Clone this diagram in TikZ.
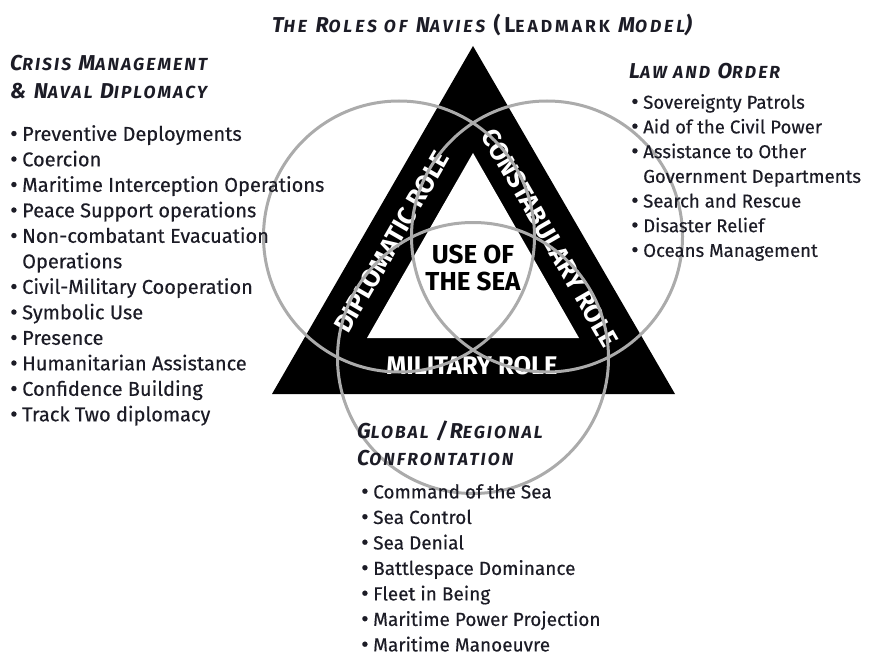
\documentclass[tikz,border=0pt]{standalone}
\usepackage{fontspec}
\setmainfont{Fira Sans}
\newfontfamily\bodyfont{Fira Sans}[FakeBold=0.35]
\newfontfamily\headfont{Fira Sans}[LetterSpace=12]
\definecolor{ink}{HTML}{1C1C26}
\definecolor{ringgray}{HTML}{ABABAB}
% small capitals built from full capitals at a reduced size
\newcommand\smc[2]{#1{\fontsize{17.5}{17.5}\selectfont #2}}
% list bullet and hanging indent
\newcommand\itm{\makebox[12pt][l]{\raisebox{-0.6pt}{\fontsize{23}{0}\selectfont •}}}
\newcommand\cont{\hspace*{12pt}}
\begin{document}
\begin{tikzpicture}[x=1pt,y=-1pt,
  heading/.style={anchor=base west, inner sep=0pt, text=ink,
    font=\headfont\fontsize{21.5}{24}\selectfont\bfseries\itshape},
  bullets/.style={anchor=north west, inner sep=0pt, align=left, text=ink,
    font=\bodyfont\fontsize{19}{25.5}\selectfont},
  rolelabel/.style={inner sep=0pt, text=white,
    font=\fontsize{25.5}{25.5}\selectfont\bfseries},
  ring/.style={draw=ringgray, line width=3pt}]
\useasboundingbox (0,0) rectangle (872,655);

% title
\node[heading, anchor=base, font=\headfont\addfontfeature{LetterSpace=17}\fontsize{21.5}{24}\selectfont\bfseries\itshape]
  (title) at (482,33)
  {\smc{T}{HE} \smc{R}{OLES OF} \smc{N}{AVIES} {\upshape(\smc{L}{EADMARK}} \smc{M}{ODEL})};

% the triangle of roles
\fill[black] (473,46) -- (272,394) -- (675,394) -- cycle;
\fill[white] (473,153) -- (367,338) -- (579,338) -- cycle;

\node[font=\fontsize{26}{27.5}\selectfont\bfseries, text=black, align=center, inner sep=0pt]
  (sea) at (473,268) {USE OF\\THE SEA};
\node[rolelabel] (military) at (472,366) {MILITARY ROLE};
\node[rolelabel, rotate=60] (diplomatic) at (392,242) {DIPLOMATIC ROLE};
\node[rolelabel, rotate=-60] (constabulary) at (550,238) {CONSTABULARY ROLE};

% overlapping circles
\draw[ring] (399,236.5) circle[radius=135.5];
\draw[ring] (547,236.5) circle[radius=135.5];
\draw[ring] (473,358) circle[radius=135.5];

% crisis management
\node[heading] (crisisA) at (10,71) {\smc{C}{RISIS} \smc{M}{ANAGEMENT}};
\node[heading] (crisisB) at (10,99) {\& \smc{N}{AVAL} \smc{D}{IPLOMACY}};
\node[bullets, font=\bodyfont\fontsize{20}{25.5}\selectfont] (crisislist) at (10,125) {%
\itm Preventive Deployments\\
\itm Coercion\\
\itm Maritime Interception Operations\\
\itm Peace Support operations\\
\itm Non-combatant Evacuation\\
\cont Operations\\
\itm Civil-Military Cooperation\\
\itm Symbolic Use\\
\itm Presence\\
\itm Humanitarian Assistance\\
\itm Confidence Building\\
\itm Track Two diplomacy};

% law and order
\node[heading] (lawA) at (629,79) {\smc{L}{AW AND} \smc{O}{RDER}};
\node[bullets, font=\bodyfont\fontsize{18.6}{24.7}\selectfont] (lawlist) at (631,94) {%
\itm Sovereignty Patrols\\
\itm Aid of the Civil Power\\
\itm Assistance to Other\\
\cont Government Departments\\
\itm Search and Rescue\\
\itm Disaster Relief\\
\itm Oceans Management};

% global / regional confrontation
\node[heading] (globalA) at (357,438) {\smc{G}{LOBAL} /\smc{R}{EGIONAL}};
\node[heading] (globalB) at (357,465) {\smc{C}{ONFRONTATION}};
\node[bullets] (globallist) at (361,484) {%
\itm Command of the Sea\\
\itm Sea Control\\
\itm Sea Denial\\
\itm Battlespace Dominance\\
\itm Fleet in Being\\
\itm Maritime Power Projection\\
\itm Maritime Manoeuvre};
\end{tikzpicture}
\end{document}
